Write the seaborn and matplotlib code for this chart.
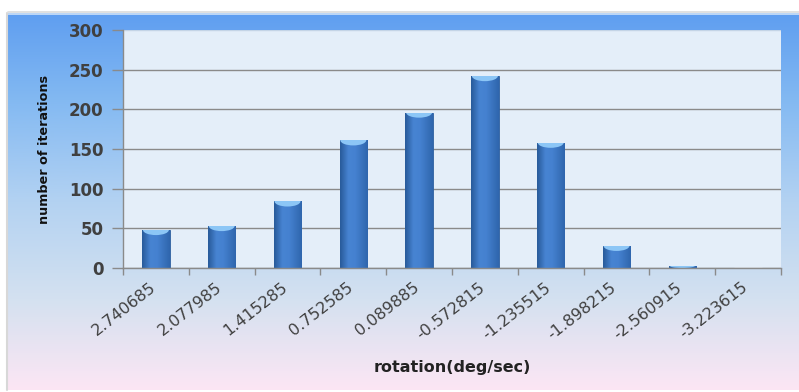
import numpy as np
import pandas as pd
import matplotlib
matplotlib.use("Agg")
import matplotlib.pyplot as plt
import seaborn as sns
from matplotlib.colors import LinearSegmentedColormap
from matplotlib.patches import Ellipse
from matplotlib.transforms import ScaledTranslation

# Histogram of rotation rate samples
bin_labels = ["2.740685", "2.077985", "1.415285", "0.752585", "0.089885",
              "-0.572815", "-1.235515", "-1.898215", "-2.560915", "-3.223615"]
iterations = [48, 53, 84, 161, 196, 242, 158, 28, 3, 0]
y_ticks = [0, 50, 100, 150, 200, 250, 300]

df = pd.DataFrame({"rotation": bin_labels, "count": iterations})

sns.set_style("white")
plt.rcParams["font.family"] = ["DejaVu Sans"]

W, H = 799, 392
fig = plt.figure(figsize=(W / 100, H / 100), dpi=100)
fig.patch.set_facecolor("white")

# Backdrop: framed chart area with a blue-to-pink vertical gradient
bg = fig.add_axes([0, 0, 1, 1], zorder=-10)
bg.set_xlim(0, W)
bg.set_ylim(H, 0)
bg.axis("off")
frame_cmap = LinearSegmentedColormap.from_list(
    "frame",
    [(0.0, "#5f9ef0"), (0.23, "#83b9f2"), (0.50, "#b3d2f2"),
     (0.76, "#d4e1f0"), (1.0, "#fce6f4")])
grad = np.linspace(0, 1, 256).reshape(-1, 1)
bg.imshow(grad, cmap=frame_cmap, aspect="auto",
          extent=(8, W, 390, 13), interpolation="bicubic")
bg.plot([8, W], [13.5, 13.5], color="#cfe2f8", lw=1.2)
bg.plot([7, 7], [13, 390], color="#d8d8d8", lw=1.5)
bg.plot([8, W], [12, 12], color="#dcdcdc", lw=1.2)

# Plot area
left, right, top, bottom = 123, 781, 30, 268
ax = fig.add_axes([left / W, 1 - bottom / H, (right - left) / W, (bottom - top) / H])
ax.set_facecolor("#e4eef9")

sns.barplot(data=df, x="rotation", y="count", order=bin_labels,
            color="#3b74bf", width=0.415, ax=ax, zorder=3, saturation=1)

# Cylinder shading on each bar, with a light cap at the top
bar_cmap = LinearSegmentedColormap.from_list(
    "bar", [(0.0, "#285a9a"), (0.3, "#4784d2"), (0.55, "#4581d0"), (1.0, "#2f66ad")])
hgrad = np.linspace(0, 1, 64).reshape(1, -1)
for p in ax.patches:
    x0, w, h = p.get_x(), p.get_width(), p.get_height()
    if h <= 0:
        continue
    p.set_edgecolor("#2d5f9f")
    p.set_linewidth(0.6)
    im = ax.imshow(hgrad, cmap=bar_cmap, aspect="auto",
                   extent=(x0, x0 + w, 0, h), zorder=3.5, interpolation="bicubic")
    im.set_clip_path(p)
    cap_h = min(6.5, h)
    cap = Ellipse((x0 + w / 2, h), w * 0.95, cap_h * 2,
                  facecolor="#8cc6f6", edgecolor="none", zorder=4)
    ax.add_patch(cap)
    cap.set_clip_path(p)

ax.set_xlim(-0.5, len(bin_labels) - 0.5)
ax.set_ylim(0, 300)
ax.set_yticks(y_ticks)
ax.yaxis.grid(True, color="#8a8a8a", lw=1.0, zorder=1)
ax.set_axisbelow(True)
ax.get_ygridlines()[-1].set_color("#c4d4e6")

for s in ["top", "right"]:
    ax.spines[s].set_visible(False)
for s in ["left", "bottom"]:
    ax.spines[s].set_color("#8a8a8a")
    ax.spines[s].set_linewidth(1.0)
    ax.spines[s].set_zorder(5)

ax.tick_params(axis="y", direction="out", length=8, width=1.0, color="#8a8a8a",
               pad=6, labelsize=12, labelcolor="#404040", left=True)
for t in ax.get_yticklabels():
    t.set_fontweight("bold")

# Category ticks sit between bars; labels sit under the bar centres
ax.set_xticks(np.arange(len(bin_labels) + 1) - 0.5, minor=True)
ax.tick_params(axis="x", which="minor", direction="out", length=5, width=1.0,
               color="#8a8a8a", bottom=True)
ax.tick_params(axis="x", which="major", length=0, pad=4)
ax.set_xticks(np.arange(len(bin_labels)))
ax.set_xticklabels(bin_labels, rotation=38, ha="right", va="center",
                   rotation_mode="anchor", fontsize=11.5, color="#404040")
off = ScaledTranslation(-2 / 100, -12 / 100, fig.dpi_scale_trans)
for t in ax.get_xticklabels():
    t.set_transform(t.get_transform() + off)

ax.set_xlabel("rotation(deg/sec)", fontsize=11.5, fontweight="bold", color="#222222")
ax.xaxis.set_label_coords(0.5, -0.385)
ax.set_ylabel("number of iterations", fontsize=9.2, fontweight="bold", color="#111111")
ax.yaxis.set_label_coords(-0.109, 0.5)

fig.savefig("out.png", dpi=100)
